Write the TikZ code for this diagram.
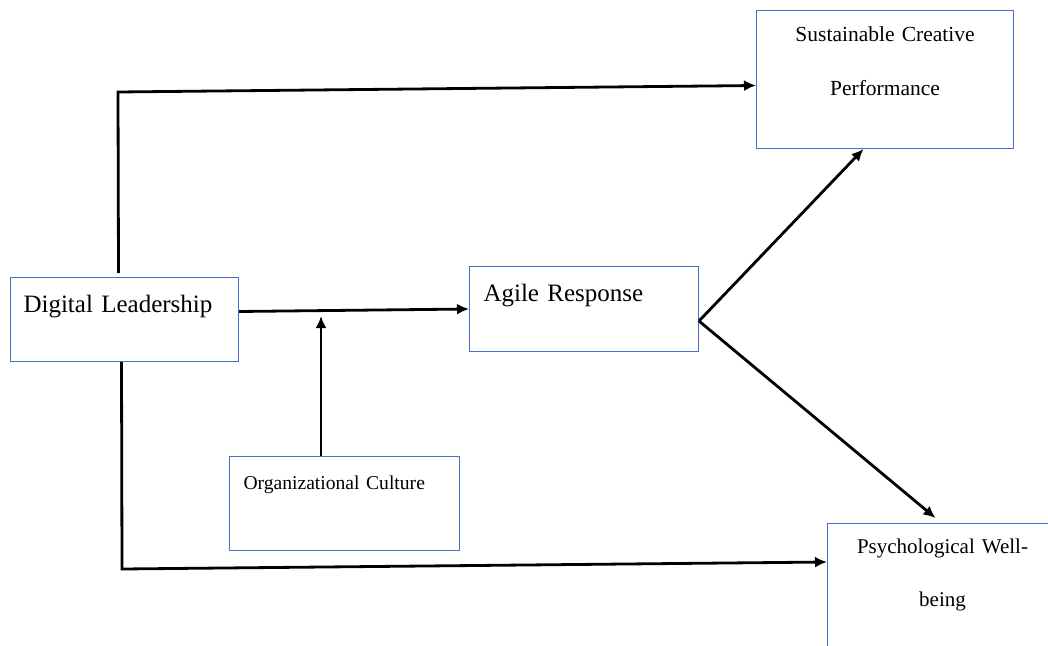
\documentclass[tikz,border=0pt]{standalone}
\usepackage{fontspec}
\setmainfont{Liberation Serif}
\usetikzlibrary{arrows.meta,positioning,calc}
\definecolor{boxblue}{RGB}{68,114,196}

\begin{document}
\begin{tikzpicture}[x=1pt, y=-1pt,
    box/.style={draw=boxblue, line width=1pt, anchor=north west, inner ysep=0pt, align=left},
    arr/.style={-{Latex[length=12pt,width=11pt]}, line width=2.8pt, black}
]
\clip (0,0) rectangle (1048,645);
\fill[white] (0,0) rectangle (1048,645);

\node[box, inner xsep=13pt, text width=202pt, text height=35pt, text depth=49pt, font=\fontsize{25}{30}\selectfont] (dl) at (10,277) {Digital Leadership};
\node[box, inner xsep=14pt, text width=201pt, text height=35pt, text depth=50pt, font=\fontsize{25}{30}\selectfont] (ar) at (469,266) {Agile Response};
\node[box, inner xsep=14pt, text width=202pt, text height=33pt, text depth=61pt, font=\fontsize{19.6}{24}\selectfont] (oc) at (229,456) {Organizational Culture};
\node[box, align=center, inner xsep=0pt, text width=257pt, text height=31pt, text depth=107pt, font=\fontsize{21.5}{54}\selectfont] (scp) at (756,10) {Sustainable Creative\\Performance};
\node[box, align=center, inner xsep=0pt, text width=230pt, text height=30pt, text depth=140pt, font=\fontsize{21}{53}\selectfont] (pw) at (827,523) {Psychological Well-\\being};

\coordinate (tl) at (118,92);
\coordinate (jn) at (321,316);
\coordinate (bl) at (122,569);

\draw[arr] ([xshift=-6pt,yshift=4pt]dl.north) -- (tl) -- ([yshift=-6pt]scp.west);
\draw[arr] ([yshift=8pt]dl.east) -- (ar.west);
\draw[arr] (oc.north -| jn) -- (jn);
\draw[arr] ([yshift=-12pt]ar.east) -- ([xshift=-21.5pt]scp.south);
\draw[arr] ([yshift=-12pt]ar.east) -- ([xshift=-7pt,yshift=5pt]pw.north);
\draw[arr] ([xshift=-3pt]dl.south) -- (bl) -- ([yshift=-39pt]pw.north west);
\end{tikzpicture}
\end{document}
